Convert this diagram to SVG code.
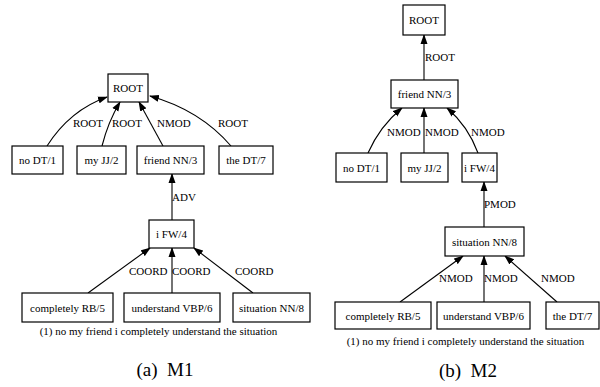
<svg xmlns="http://www.w3.org/2000/svg" width="600" height="387" viewBox="0 0 600 387">
<style>
.box{fill:#fff;stroke:#000;stroke-width:1.2}
.t{font-family:"Liberation Serif",serif;font-size:11px;fill:#000}
.c{text-anchor:middle}
.e{fill:none;stroke:#000;stroke-width:1.1;marker-end:url(#ah)}
.cap{font-family:"Liberation Serif",serif;font-size:19px;fill:#000;text-anchor:middle}
</style>
<defs>
<marker id="ah" markerUnits="userSpaceOnUse" markerWidth="10" markerHeight="8" refX="9" refY="3.5" orient="auto" viewBox="0 0 10 7">
<path d="M0,0 L10,3.5 L0,7 z" fill="#000"/>
</marker>
</defs>
<rect width="600" height="387" fill="#fff"/>
<g id="connectors">
<!-- left -->
<path class="e" d="M47,146 Q70,110 107,97"/>
<path class="e" d="M102,146 Q108,122 120,102"/>
<path class="e" d="M163,146 Q150,122 139,102"/>
<path class="e" d="M231,146 Q200,110 150,96"/>
<path class="e" d="M172,220 L172,174"/>
<path class="e" d="M88,293 L150,248"/>
<path class="e" d="M172,293 L172,248"/>
<path class="e" d="M253,293 L194,248"/>
<!-- right -->
<path class="e" d="M424,80 L424,35"/>
<path class="e" d="M368,153 Q380,126 402,108"/>
<path class="e" d="M424,153 L424,108"/>
<path class="e" d="M478,153 Q468,126 447,108"/>
<path class="e" d="M484,227 L484,182"/>
<path class="e" d="M400,302 L463,256"/>
<path class="e" d="M484,302 L484,256"/>
<path class="e" d="M557,302 L505,256"/>
<g class="t">
<text x="73" y="127">ROOT</text>
<text x="112" y="127">ROOT</text>
<text x="157" y="127">NMOD</text>
<text x="218" y="127">ROOT</text>
<text x="172" y="201">ADV</text>
<text x="129" y="275">COORD</text>
<text x="172" y="275">COORD</text>
<text x="235" y="275">COORD</text>
<text x="425" y="61">ROOT</text>
<text x="387" y="136">NMOD</text>
<text x="425" y="136">NMOD</text>
<text x="471" y="136">NMOD</text>
<text x="484" y="208">PMOD</text>
<text x="439" y="282">NMOD</text>
<text x="484" y="282">NMOD</text>
<text x="541" y="282">NMOD</text>
</g>
</g>
<g id="L_root"><rect class="box" x="108" y="74" width="40" height="28"/><text class="t c" x="128" y="92">ROOT</text></g>
<g id="L_no"><rect class="box" x="12" y="146" width="51" height="28"/><text class="t c" x="37.5" y="164">no DT/1</text></g>
<g id="L_my"><rect class="box" x="77" y="146" width="49" height="28"/><text class="t c" x="101.5" y="164">my JJ/2</text></g>
<g id="L_friend"><rect class="box" x="137" y="146" width="67" height="28"/><text class="t c" x="170.5" y="164">friend NN/3</text></g>
<g id="L_the"><rect class="box" x="219" y="146" width="54" height="28"/><text class="t c" x="246" y="164">the DT/7</text></g>
<g id="L_i"><rect class="box" x="149" y="220" width="45" height="28"/><text class="t c" x="171.5" y="238">i FW/4</text></g>
<g id="L_completely"><rect class="box" x="22" y="293" width="91" height="29"/><text class="t c" x="67.5" y="311.5">completely RB/5</text></g>
<g id="L_understand"><rect class="box" x="124" y="293" width="96" height="29"/><text class="t c" x="172" y="311.5">understand VBP/6</text></g>
<g id="L_situation"><rect class="box" x="233" y="293" width="77" height="29"/><text class="t c" x="271.5" y="311.5">situation NN/8</text></g>
<g id="L_caption"><text class="t c" x="158.5" y="335">(1) no my friend i completely understand the situation</text></g>

<g id="R_root"><rect class="box" x="403" y="5" width="42" height="30"/><text class="t c" x="424" y="24">ROOT</text></g>
<g id="R_friend"><rect class="box" x="391" y="80" width="67" height="28"/><text class="t c" x="424.5" y="98">friend NN/3</text></g>
<g id="R_no"><rect class="box" x="336" y="153" width="51" height="29"/><text class="t c" x="361.5" y="171.5">no DT/1</text></g>
<g id="R_my"><rect class="box" x="401" y="153" width="47" height="29"/><text class="t c" x="424.5" y="171.5">my JJ/2</text></g>
<g id="R_i"><rect class="box" x="462" y="153" width="35" height="29"/><text class="t c" x="479.5" y="171.5">i FW/4</text></g>
<g id="R_situation"><rect class="box" x="445" y="227" width="79" height="29"/><text class="t c" x="484.5" y="245.5">situation NN/8</text></g>
<g id="R_completely"><rect class="box" x="335" y="302" width="96" height="27"/><text class="t c" x="383" y="319.5">completely RB/5</text></g>
<g id="R_understand"><rect class="box" x="437" y="302" width="93" height="27"/><text class="t c" x="483.5" y="319.5">understand VBP/6</text></g>
<g id="R_the"><rect class="box" x="546" y="302" width="53" height="27"/><text class="t c" x="572.5" y="319.5">the DT/7</text></g>
<g id="R_caption"><text class="t c" x="465.5" y="345">(1) no my friend i completely understand the situation</text></g>

<text class="cap" x="165" y="376" xml:space="preserve">(a)  M1</text>
<text class="cap" x="468" y="377" xml:space="preserve">(b)  M2</text>
</svg>
